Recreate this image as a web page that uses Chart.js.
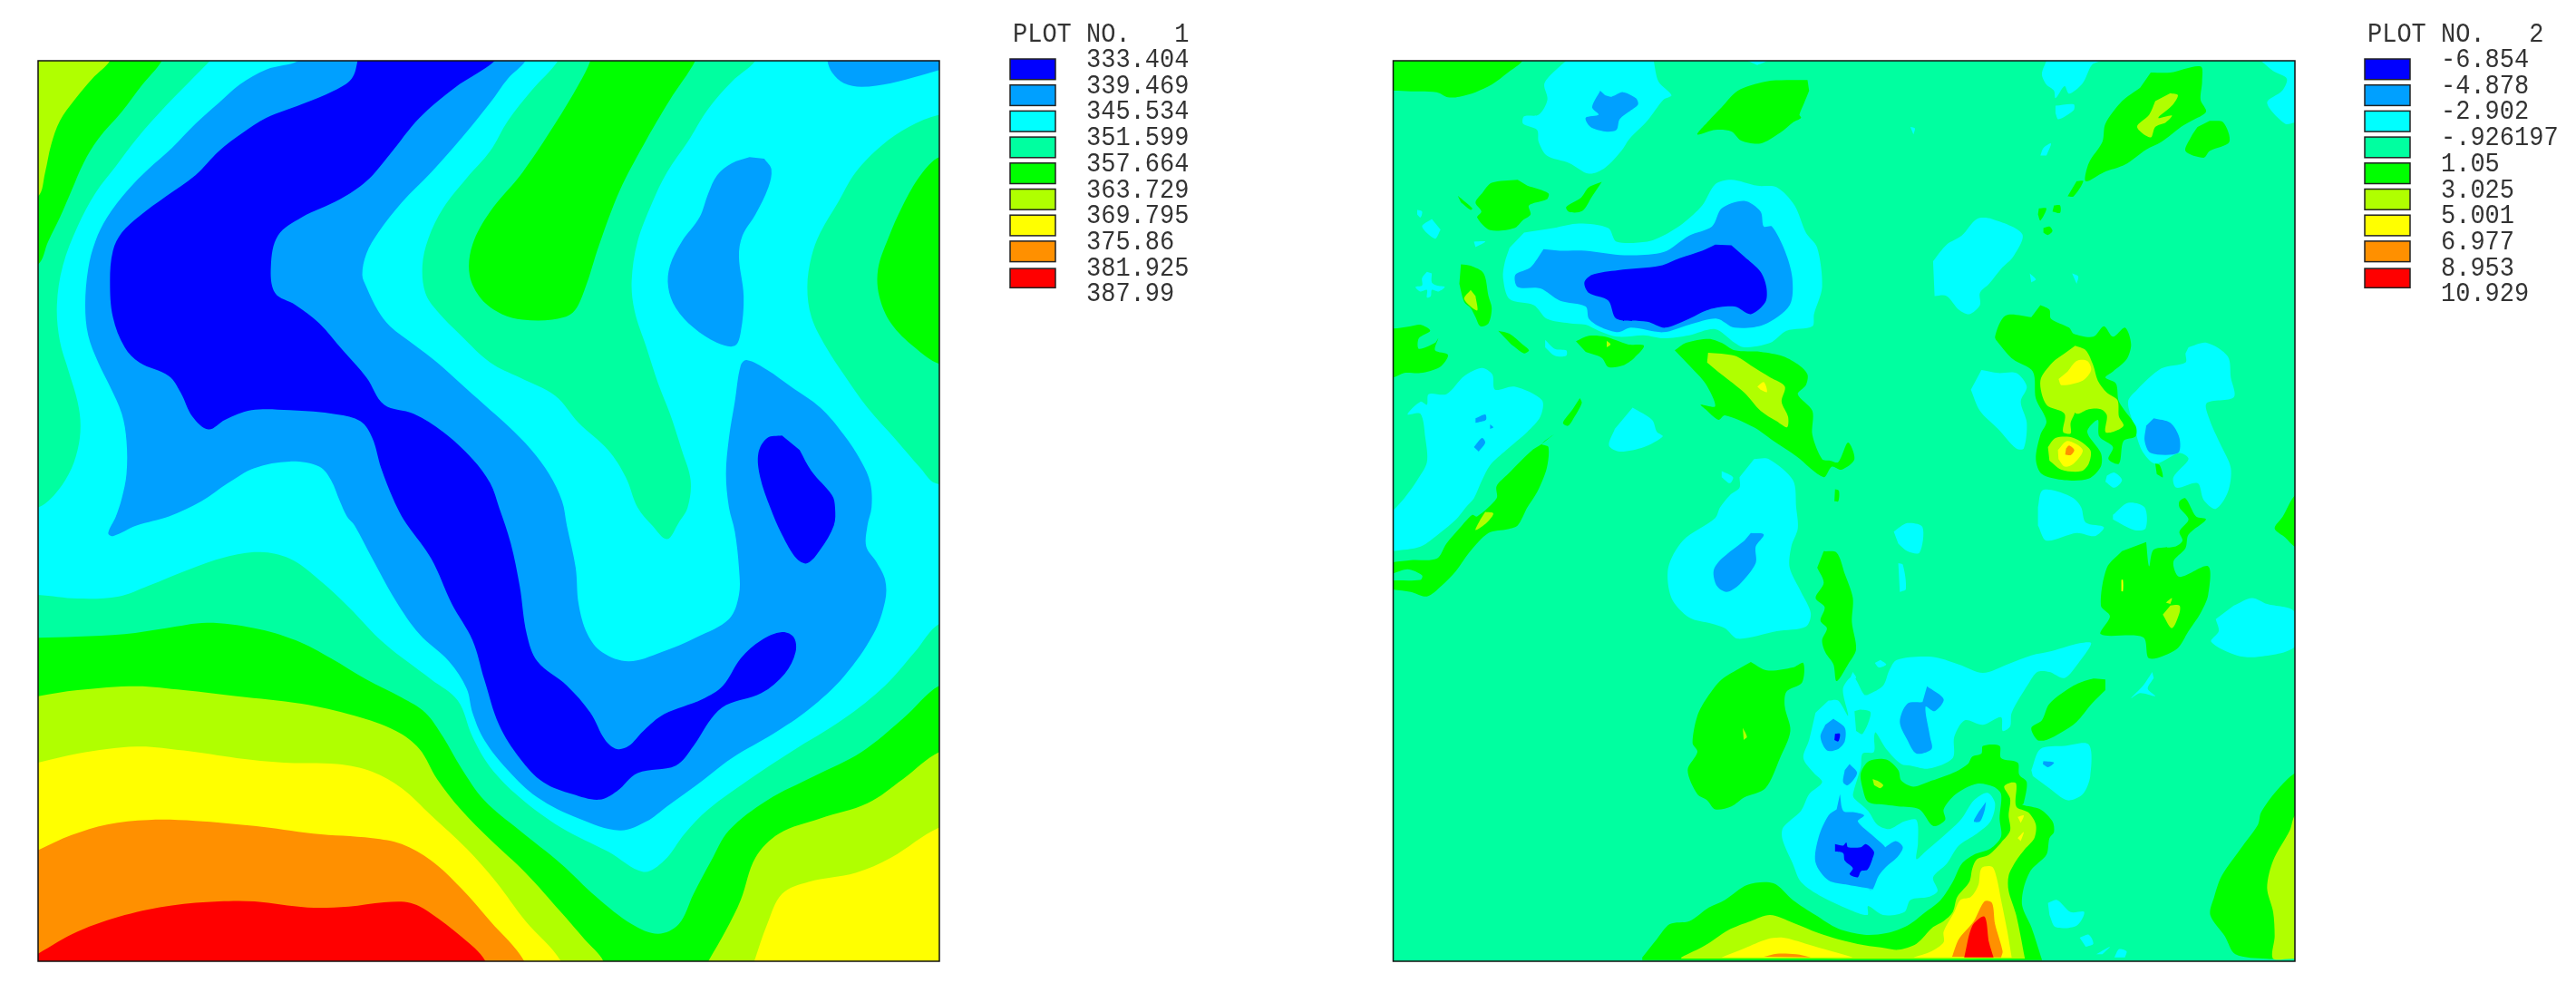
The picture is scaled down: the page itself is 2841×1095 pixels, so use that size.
<!DOCTYPE html>
<html><head><meta charset="utf-8">
<script src="https://cdn.jsdelivr.net/npm/chart.js@4/dist/chart.umd.js"></script>
<style>html,body{margin:0;background:#fff;width:2841px;height:1095px;overflow:hidden}canvas{position:absolute;top:0}</style>
</head><body>
<canvas id="c1" width="1494" height="1095" style="left:0"></canvas>
<canvas id="c2" width="1347" height="1095" style="left:1494px"></canvas>
<script>
const bandColors=['#0000FF','#00A0FF','#00FFFF','#00FFA0','#00FF00','#B0FF00','#FFFF00','#FF9000','#FF0000'];
const levels1=['333.404','339.469','345.534','351.599','357.664','363.729','369.795','375.86','381.925','387.99'];
const levels2=['-6.854','-4.878','-2.902','-.926197','1.05','3.025','5.001','6.977','8.953','10.929'];
const titles=['PLOT NO.   1','PLOT NO.   2'];
const [BLUE,SKY,CYAN,MINT,GREEN,LIME,YELLOW,ORANGE,RED]=bandColors;

/* ---- plot 1: contour outlines, flat x,y lists ---- */
const p1Cyan=[325,20,1600,20,1600,1915,1562,1915,1520,2010,1470,2120,1400,2230,1310,2340,1240,2430,1170,2530,1130,2610,1095,2700,1060,2737,1000,2670,920,2590,850,2490,800,2390,770,2290,745,2170,700,2100,620,1980,560,1860,510,1770,460,1700,410,1678,350,1695,290,1735,220,1790,170,1825,100,1832,33,1820,0,1820,0,1530,33,1530,60,1490,85,1420,100,1340,105,1260,100,1180,85,1080,70,980,65,860,75,730,100,600,130,490,165,400,200,310,250,200,290,120,325,51];
const p1MintMid=[915,20,915,51,870,150,830,250,800,350,760,440,720,540,695,640,685,730,690,820,710,880,750,960,800,1050,850,1100,910,1160,950,1250,1000,1340,1030,1430,1050,1530,1075,1590,1100,1635,1120,1580,1135,1530,1140,1440,1125,1340,1105,1220,1085,1120,1065,1000,1045,880,1040,780,1050,650,1075,520,1100,420,1135,320,1170,210,1210,120,1250,51,1250,20];
const p1MintRight=[1600,230,1562,230,1510,270,1465,330,1420,420,1390,520,1360,620,1345,700,1338,800,1345,900,1370,1000,1400,1090,1440,1200,1490,1310,1530,1400,1555,1450,1600,1450];
const p1GreenMid=[970,20,970,51,950,130,910,260,855,420,800,550,770,660,765,760,785,840,820,890,855,908,905,908,940,885,960,810,985,660,1020,480,1060,330,1105,180,1148,51,1148,20];
const p1GreenRight=[1600,370,1562,370,1530,430,1500,530,1475,640,1458,740,1460,830,1480,920,1520,1000,1562,1055,1600,1055];
const p1GreenCorner=[243,20,243,51,210,130,175,220,135,310,110,390,90,480,70,570,50,650,33,725,0,725,0,20];
const p1LimeCorner=[155,20,155,51,125,110,95,180,70,250,55,330,45,420,33,500,0,500,0,20];
const p1SkyMain=[475,20,475,51,420,80,375,130,340,190,300,260,260,340,220,410,185,480,150,570,130,650,118,740,113,860,118,960,135,1050,155,1130,175,1220,183,1310,183,1420,175,1500,165,1560,152,1615,160,1625,200,1590,255,1560,310,1510,355,1450,400,1400,460,1378,510,1395,530,1440,545,1510,557,1560,570,1590,600,1700,640,1840,680,1950,730,2040,760,2130,770,2210,790,2300,830,2400,880,2490,950,2560,1020,2600,1065,2570,1100,2520,1150,2450,1210,2360,1280,2280,1340,2200,1400,2090,1450,1950,1470,1840,1470,1770,1455,1710,1438,1660,1440,1590,1447,1530,1445,1450,1430,1380,1400,1290,1360,1200,1310,1130,1270,1075,1235,1042,1225,1060,1215,1180,1205,1300,1200,1420,1205,1530,1215,1610,1222,1730,1222,1820,1205,1900,1150,1960,1090,2010,1035,2040,990,2010,965,1950,950,1850,945,1730,930,1590,922,1510,900,1420,870,1340,830,1260,790,1190,750,1120,710,1050,670,990,630,930,610,880,590,800,583,760,590,690,610,620,650,520,700,420,750,310,800,190,830,110,860,51,860,20];
const p1SkyIsland=[1240,370,1210,390,1185,430,1170,490,1155,570,1125,650,1105,730,1102,800,1115,870,1145,935,1185,985,1215,995,1225,950,1230,830,1222,700,1228,630,1250,560,1272,470,1277,410,1265,375];
const p1SkyCorner=[1372,20,1372,51,1380,90,1400,125,1430,137,1480,125,1530,100,1562,82,1600,60,1600,20];
const p1BlueMain=[575,20,575,51,565,110,535,150,480,195,420,240,380,290,340,350,300,430,250,500,205,565,175,620,160,680,155,780,160,900,180,1000,205,1050,255,1095,275,1150,295,1230,322,1272,350,1240,395,1208,460,1208,540,1222,580,1245,600,1300,615,1400,635,1500,650,1560,660,1590,700,1700,735,1850,770,1970,790,2100,815,2250,850,2360,890,2440,940,2480,985,2498,1015,2470,1050,2410,1115,2385,1145,2320,1175,2230,1200,2185,1260,2145,1300,2080,1318,2010,1315,1960,1295,1943,1260,1970,1225,2030,1195,2120,1160,2165,1095,2215,1060,2270,1035,2320,1015,2330,995,2300,970,2210,930,2120,880,2040,862,1950,850,1790,835,1650,815,1530,800,1450,770,1370,720,1280,670,1220,620,1190,590,1100,550,1010,510,920,470,860,435,820,428,730,440,630,480,570,545,510,590,450,630,360,680,240,740,140,808,51,808,20];
const p1BlueIsland=[1295,1292,1270,1300,1255,1350,1258,1430,1275,1530,1295,1620,1320,1700,1338,1715,1360,1670,1383,1590,1385,1530,1380,1490,1345,1410,1325,1340];
const p1GreenLow=[33,1962,100,1958,180,1950,250,1930,320,1912,400,1930,470,1970,530,2030,590,2100,650,2160,690,2210,720,2290,750,2390,790,2500,850,2600,920,2710,980,2820,1040,2910,1085,2942,1120,2910,1145,2810,1175,2700,1205,2600,1270,2500,1350,2420,1430,2340,1500,2230,1562,2120,1600,2120,1600,3100,0,3100,0,1962];
const p1LimeLeft=[33,2155,100,2135,200,2122,280,2135,370,2155,480,2180,570,2220,640,2270,680,2330,710,2430,750,2530,800,2630,860,2740,920,2870,960,2960,992,3033,992,3100,0,3100,0,2155];
const p1LimeRight=[1170,3033,1200,2930,1225,2830,1250,2690,1290,2610,1360,2560,1440,2510,1500,2430,1562,2340,1600,2340,1600,3100,1170,3100];
const p1YellowLeft=[33,2375,100,2345,200,2322,280,2335,370,2360,450,2375,540,2380,600,2405,650,2460,700,2550,760,2660,810,2770,860,2900,920,3033,920,3100,0,3100,0,2375];
const p1YellowRight=[1248,3033,1270,2910,1295,2810,1340,2770,1420,2740,1480,2690,1562,2590,1600,2590,1600,3100,1248,3100];
const p1Orange=[33,2665,90,2615,150,2580,220,2565,300,2568,400,2585,500,2610,600,2625,650,2645,700,2700,750,2790,800,2900,858,3033,858,3100,0,3100,0,2665];
const p1Red=[33,3008,100,2935,180,2880,260,2848,340,2835,400,2835,490,2855,560,2852,620,2838,665,2840,700,2875,750,2950,792,3033,792,3100,0,3100,0,3008];

/* ---- plot 2: outlines. "Lf" lists use a left-frame x, "Rt" a right-frame x, "Mx" the plot's own x ---- */
const p2CyanLf=[
[580,51,530,100,512,130,522,180,495,230,450,235,447,260,490,280,495,320,520,365,590,390,650,425,700,405,750,350,775,310,830,250,880,180,905,165,865,120,850,51],
[165,575,135,600,175,640,192,610],
[150,750,135,770,135,795,115,800,130,815,150,810,150,835,162,830,165,810,185,815,205,800,180,795,165,785,165,755],
[120,545,135,550,130,570,120,560],[295,650,330,650,300,668],[1140,51,1200,51,1170,65],
[405,670,390,720,385,770,405,840,480,860,520,905,590,920,640,925,680,945,740,965,820,960,880,970,960,960,1040,940,1100,985,1130,1000,1210,985,1260,945,1340,930,1345,890,1370,800,1355,670,1320,620,1285,530,1230,470,1170,465,1090,445,1040,460,1000,530,940,590,880,630,830,650,735,650,710,605,620,590,540,605,450,620],
[515,975,545,1005,580,1010,580,1028,545,1028,515,1000],
[46,1540,80,1500,120,1440,150,1380,145,1300,130,1220,90,1222,130,1180,150,1190,155,1155,210,1155,265,1095,320,1068,352,1090,360,1140,420,1130,505,1175,500,1230,460,1280,395,1340,345,1390,320,1440,295,1500,270,1530,240,1570,190,1615,130,1660,46,1675],
[785,1200,845,1240,860,1280,878,1295,820,1330,745,1345,712,1325,730,1270],
[1160,1370,1205,1370,1280,1440,1290,1530,1295,1600,1275,1660,1270,1730,1305,1810,1335,1880,1320,1925,1230,1940,1110,1965,1070,1930,1030,1915,960,1895,905,1830,895,1730,940,1640,1040,1565,1055,1530,1085,1490,1115,1465,1115,1430],
[1060,1410,1095,1430,1085,1450,1060,1430],
[1550,2035,1568,2050,1545,2060,1533,2045],[1465,2075,1475,2095,1455,2100]];
const p2CyanRt=[
[85,1610,130,1582,180,1595,170,1680,130,1675,100,1650],[100,1715,115,1720,125,1800,105,1810],
[562,1530,575,1475,620,1475,680,1500,705,1530,720,1580,780,1595,750,1625,690,1615,590,1640,562,1590],
[810,1555,860,1515,915,1530,918,1600,880,1605,810,1570],
[1210,1855,1270,1830,1320,1850,1410,1875,1412,1990,1290,2025,1220,2020,1135,1975,1160,1940,1150,1900],
[940,2075,910,2120,870,2162,900,2145,950,2155,925,2130,945,2095],
[540,2400,570,2330,650,2320,730,2315,735,2420,710,2480,660,2500,600,2460,545,2420],
[595,2840,625,2830,670,2870,715,2870,690,2915,620,2920,600,2880],
[700,2955,730,2945,745,2975,720,2985],[755,3010,800,2985,775,3010],[815,3020,830,2993,855,3000,850,3020],
[590,51,575,95,590,130,615,150,620,175,650,135,665,160,710,125,740,65,770,51],
[620,200,680,195,680,215,630,245,620,225],[570,365,580,340,605,325,590,365],[140,270,155,275,150,295],
[215,715,260,660,310,630,360,575,410,575,510,625,480,700,440,740,400,790,370,820,370,860,335,890,300,875,260,830,220,830],
[535,755,555,775,540,785],[675,755,695,765,690,790],
[1300,51,1340,85,1385,110,1370,150,1320,190,1380,260,1412,255,1440,255,1440,51],
[375,1075,430,1085,490,1085,525,1130,505,1180,525,1250,515,1335,490,1335,430,1270,370,1210,340,1140],
[1060,1000,1120,985,1190,1030,1200,1100,1210,1165,1120,1185,1130,1240,1165,1320,1200,1400,1190,1480,1150,1535,1110,1505,1090,1450,1020,1465,1010,1430,1060,1370,1030,1350,950,1385,905,1340,880,1260,860,1180,890,1140,970,1070,1050,1050,1050,1020],
[790,1425,815,1415,840,1440,815,1465,785,1445]];
const p2CyanMx=[[1489,2170,1521,2170,1554,2220,1537,2130,1570,2090,1607,2150,1620,2150,1670,2120,1690,2070,1715,2035,1830,2025,1920,2050,2000,2078,2080,2050,2160,2020,2230,2005,2320,1980,2358,1980,2320,2040,2270,2095,2220,2075,2180,2075,2150,2115,2095,2210,2090,2255,2065,2270,2060,2225,2000,2250,1940,2235,1905,2290,1900,2360,1820,2395,1760,2385,1730,2380,1680,2330,1645,2275,1640,2290,1639,2340,1602,2345,1596,2390,1570,2480,1575,2495,1620,2535,1650,2580,1690,2595,1740,2570,1780,2565,1785,2640,1780,2695,1810,2670,1890,2600,1930,2560,1970,2500,2015,2475,2040,2510,2025,2570,1980,2610,1920,2650,1880,2710,1835,2755,1850,2800,1820,2820,1760,2830,1740,2870,1670,2880,1620,2850,1618,2880,1554,2860,1468,2820,1398,2770,1371,2710,1337,2630,1339,2590,1398,2535,1425,2480,1468,2440,1441,2410,1406,2360,1425,2300,1446,2210]];
const p2MintLf=[[1470,2205,1490,2200,1520,2210,1495,2280,1475,2270]];
const p2SkyLf=[
[685,150,660,205,680,230,640,240,655,270,700,285,735,280,745,245,780,215,802,195,795,175,755,155,720,170,700,165],
[510,675,470,735,423,760,430,800,500,805,560,845,640,865,650,905,690,935,740,950,780,935,880,950,960,925,1045,905,1100,935,1190,925,1270,860,1278,770,1255,680,1215,600,1190,600,1180,550,1130,515,1060,540,1030,600,960,630,880,685,760,695,640,680,560,680],
[300,1235,330,1222,332,1240,300,1250],[295,1330,320,1300,330,1315,310,1345],[345,1255,355,1265,345,1270],
[1150,1615,1190,1620,1165,1660,1165,1715,1115,1785,1075,1810,1045,1790,1035,1740,1060,1700,1130,1640],
[1405,2230,1440,2260,1440,2305,1420,2330,1385,2335,1365,2290,1380,2250],
[1455,2380,1478,2410,1450,2450,1435,2440,1440,2400]];
const p2SkyRt=[[580,2370,615,2375,595,2390,578,2380],[390,2505,385,2535,370,2570,350,2570,365,2540],[945,1235,1000,1250,1030,1300,1025,1350,935,1350,915,1310,920,1260],
[195,2122,250,2165,220,2205,190,2190,205,2290,210,2330,160,2345,130,2300,105,2240,130,2180,180,2175]];
const p2SkyMx=[[1527,2480,1538,2535,1575,2540,1607,2550,1586,2570,1639,2620,1680,2660,1660,2670,1710,2635,1735,2655,1715,2690,1680,2720,1655,2750,1635,2795,1620,2795,1640,2795,1554,2780,1489,2765,1446,2705,1457,2620,1489,2550,1516,2530]];
const p2BlueLf=[
[1040,660,1000,680,930,705,870,730,740,745,660,760,636,785,650,820,710,845,735,905,830,915,885,935,950,910,1020,875,1100,865,1150,890,1195,850,1198,800,1180,750,1130,700,1090,662],
[1410,2280,1425,2280,1420,2305,1408,2300],
[1410,2645,1435,2650,1445,2640,1450,2655,1490,2655,1505,2645,1530,2670,1525,2695,1510,2730,1490,2735,1480,2755,1455,2745,1465,2725,1440,2700,1435,2675,1410,2670]];
const p2GreenLf=[
[20,20,445,20,445,51,400,90,350,130,300,155,250,170,215,172,180,155,100,152,46,150,20,150],
[1325,115,1260,115,1195,120,1110,150,1060,205,1020,250,985,295,1040,280,1090,285,1120,315,1180,325,1240,290,1280,255,1305,240,1300,230,1315,190,1330,150],
[430,445,350,455,320,490,300,520,318,550,305,570,345,612,420,605,445,580,470,560,465,530,520,510,525,490,460,465],
[245,498,290,540,285,545,255,520],[690,452,650,470,625,505,580,535,590,552,630,548,660,500],
[255,725,285,730,325,755,340,830,350,870,340,920,315,930,300,900,285,870,265,850,250,790],
[20,938,46,938,100,930,130,925,160,945,125,970,125,1005,175,985,185,970,175,1010,215,1025,190,1065,130,1085,80,1085,46,1100,20,1100],
[370,945,405,955,445,990,465,1010,450,1020,410,990],[610,980,650,962,700,965,770,990,820,995,790,1035,755,1060,710,1065,690,1035,640,1015],
[915,1010,950,985,1020,972,1060,985,1100,1010,1180,1015,1250,1030,1300,1060,1325,1090,1320,1125,1295,1155,1340,1210,1340,1290,1370,1370,1395,1375,1420,1380,1450,1315,1470,1370,1430,1405,1400,1395,1375,1430,1290,1360,1220,1310,1160,1265,1070,1225,1050,1240,1010,1205,995,1190,1040,1195,1010,1120,960,1060],
[622,1168,628,1185,600,1240,585,1260,570,1250,600,1205],
[545,1285,505,1320,525,1330,520,1400,490,1480,460,1530,430,1590,400,1602,340,1615,280,1680,240,1740,195,1790,150,1825,100,1810,20,1795,20,1775,130,1770,135,1755,90,1735,20,1755,20,1720,100,1705,180,1700,210,1650,250,1600,290,1555,305,1560,365,1500,365,1460,400,1420,470,1345,505,1320],
[1410,1470,1422,1475,1420,1510,1408,1510],
[1375,1675,1415,1680,1440,1750,1465,1830,1462,1910,1475,2000,1450,2050,1415,2105,1405,2050,1380,2010,1370,1970,1385,1930,1365,1905,1378,1860,1350,1830,1375,1780,1355,1730],
[1150,2042,1200,2070,1280,2060,1312,2045,1308,2110,1260,2140,1255,2190,1272,2270,1240,2360,1195,2460,1130,2490,1090,2520,1040,2530,1015,2500,985,2480,955,2400,985,2340,970,2310,985,2220,1015,2160,1060,2100,1120,2060]];
const p2GreenRt=[
[785,2100,740,2098,680,2120,600,2180,575,2235,540,2260,560,2300,590,2300,640,2275,690,2240,740,2180,785,2135],
[920,1645,930,1725,945,1670,1015,1660,1040,1640,1030,1610,1060,1570,1030,1530,1030,1510,1050,1500,1085,1560,1118,1570,1060,1620,1050,1665,1010,1710,1030,1760,1125,1725,1125,1820,1100,1880,1060,1940,1020,2000,930,2030,910,1960,770,1950,800,1890,770,1855,790,1730,840,1675],
[1440,2410,1412,2410,1350,2470,1300,2540,1290,2580,1240,2650,1170,2750,1145,2820,1132,2880,1180,2950,1215,3010,1320,3025,1412,3025,1440,3040],
[1440,1490,1412,1490,1372,1560,1345,1600,1380,1630,1412,1660,1440,1660],
[935,90,1000,90,1100,70,1105,120,1100,180,1118,220,1070,250,1035,270,970,320,920,345,850,395,780,420,720,450,730,390,775,320,785,260,840,185,900,140],
[1130,250,1175,255,1195,320,1130,350,1110,372,1050,350,1070,300,1090,270],
[690,450,712,450,680,500,660,500],[615,530,635,530,635,555,610,550],[565,540,590,540,570,580,562,560],[580,605,600,600,610,615,595,628,580,620],
[570,860,600,875,605,905,665,935,680,955,745,965,780,930,810,965,850,935,870,990,855,1040,810,1080,785,1100,820,1120,830,1180,885,1260,885,1295,845,1310,830,1385,795,1370,810,1330,765,1295,760,1240,725,1280,770,1350,770,1395,730,1435,650,1440,575,1420,555,1370,570,1290,590,1245,555,1170,545,1080,480,1040,435,990,420,965,455,895,540,900],
[950,1385,965,1390,975,1430,955,1420]];
const p2GreenMx=[[873,3020,921,2960,964,2910,1029,2900,1093,2855,1146,2830,1221,2780,1307,2775,1371,2830,1446,2880,1521,2925,1607,2945,1680,2940,1750,2915,1810,2870,1860,2830,1900,2770,1930,2710,1970,2680,2025,2660,2060,2620,2055,2560,2060,2480,2035,2455,1980,2445,1910,2480,1870,2530,1875,2565,1835,2585,1790,2530,1720,2520,1680,2515,1620,2505,1602,2460,1596,2410,1623,2370,1680,2365,1720,2400,1730,2435,1770,2455,1830,2435,1910,2405,1950,2380,1965,2355,1995,2345,2000,2320,2055,2320,2060,2360,2115,2375,2120,2415,2145,2440,2135,2510,2130,2515,2190,2530,2230,2570,2235,2605,2220,2625,2210,2680,2160,2730,2135,2790,2130,2850,2160,2920,2195,3028,2195,3029,873,3029]];
const p2LimeLf=[
[285,810,265,840,305,878,300,830],[705,978,717,990,705,1000],
[1018,1018,1100,1028,1150,1060,1210,1100,1255,1130,1245,1180,1265,1230,1262,1265,1230,1245,1180,1210,1130,1150,1060,1090,1015,1050],
[330,1545,355,1550,335,1580,300,1605,315,1570],[1125,2260,1138,2290,1128,2300]];
const p2LimeRt=[
[1000,158,1025,165,1005,200,960,240,1005,232,985,255,950,270,935,305,890,270,930,230,950,185],
[685,995,720,1010,745,1060,760,1110,790,1150,825,1175,830,1230,845,1260,810,1280,785,1280,790,1225,770,1205,730,1205,690,1220,670,1190,685,1210,670,1250,670,1285,645,1280,650,1220,590,1190,570,1110,610,1050,650,1020],
[595,1330,620,1300,680,1300,735,1340,730,1385,705,1410,640,1405,600,1375],
[1000,1855,1030,1855,1030,1880,1005,1930,975,1885],[985,1845,1005,1830,1000,1850],
[1440,2550,1412,2550,1395,2600,1340,2700,1320,2790,1340,2870,1345,2950,1340,3025,1412,3025,1440,3040],
[15,2430,30,2435,50,2450,40,2460,20,2450]];
const p2LimeMx=[[1002,3020,1082,2980,1157,2930,1232,2900,1296,2880,1371,2905,1457,2940,1521,2960,1607,2980,1680,2990,1720,2995,1780,2975,1835,2920,1870,2900,1900,2870,1915,2820,1955,2770,1965,2725,1980,2695,2020,2680,2060,2640,2090,2600,2085,2550,2090,2495,2070,2455,2090,2442,2110,2445,2110,2520,2150,2540,2175,2580,2170,2625,2140,2660,2110,2700,2085,2750,2085,2800,2110,2880,2138,3020,2138,3024,1002,3024]];
const p2YellowLf=[[1170,1130,1190,1115,1200,1148,1180,1140],[1060,3020,1130,2990,1200,2960,1250,2955,1320,2975,1400,3000,1465,3020]];
const p2YellowRt=[[660,1080,690,1045,725,1045,738,1075,710,1110,640,1125,630,1105],[628,1340,660,1310,710,1340,680,1385,650,1395,630,1370],[495,2555,515,2550,505,2575],[495,2625,515,2605,505,2635],[150,3020,210,3000,250,2970,250,2935,285,2870,305,2830,340,2820,365,2780,375,2725,410,2720,425,2755,440,2830,460,2930,475,3020],[838,1770,843,1770,843,1808,838,1808]];
const p2OrangeLf=[[1190,3018,1230,3008,1290,3010,1335,3020]];
const p2OrangeRt=[[655,1335,665,1325,682,1340,670,1357,652,1355],[278,3018,300,2960,350,2900,385,2835,410,2840,420,2910,445,3000,440,3020]];
const p2RedRt=[[318,3020,345,2915,385,2885,400,2970,415,3020]];

/* ---- helpers ---- */
const pairs=(list,k=1,dx=0)=>{const o=[];for(let i=0;i<list.length;i+=2)o.push({x:list[i]*k+dx,y:list[i+1]});return o;};
const LF=15/14, RT=1620;
const shape=(data,color,tension)=>({data,backgroundColor:color,borderWidth:0,fill:'shape',pointRadius:0,tension});
function wrap(plotPlugin,ds,xr,yr){return {type:'line',data:{datasets:ds.map((d,i)=>({...d,order:ds.length-i}))},
  options:{responsive:false,animation:false,parsing:true,
    layout:{padding:plotPlugin.padding},
    plugins:{legend:{display:false},tooltip:{enabled:false},title:{display:false}},
    scales:{x:{type:'linear',display:false,min:xr[0],max:xr[1]},y:{type:'linear',display:false,reverse:true,min:yr[0],max:yr[1]}}},
  plugins:[plotPlugin.plugin]};}
const LEG={swX:1114,swW:50,swY:65,swH:22.7,pitch:28.7,titleX:1117,titleY:45.5,valX:1198,valY:74,stretch:1.08,font:'27px "Liberation Mono"'};
function framePlugin(title,levels){return {id:'frame',afterDraw(chart){const c=chart.ctx,a=chart.chartArea;c.save();
  c.strokeStyle='#111';c.lineWidth=1.5;c.strokeRect(a.left,a.top,a.right-a.left,a.bottom-a.top);
  const text=(t,x,y)=>{c.save();c.translate(x,y);c.scale(1,LEG.stretch);c.fillText(t,0,0);c.restore();};
  c.font=LEG.font;c.fillStyle='#333';c.textBaseline='alphabetic';text(title,LEG.titleX,LEG.titleY);
  bandColors.forEach((col,i)=>{const last=i===bandColors.length-1;const y=LEG.swY+i*LEG.pitch+(last?1.5:0),h=LEG.swH-(last?1.5:0);
    c.fillStyle=col;c.fillRect(LEG.swX,y,LEG.swW,h);c.strokeStyle='#222';c.lineWidth=1.5;c.strokeRect(LEG.swX,y,LEG.swW,h);});
  c.fillStyle='#333';levels.forEach((t,i)=>text(t,LEG.valX,LEG.valY+i*LEG.pitch));c.restore();}};}

/* ---- plot 1 ---- */
const T1=0.35;
const baseRect=[-5000,-5000,9000,-5000,9000,9000,-5000,9000];
const ds1=[shape(pairs(baseRect),MINT,0)];
[[p1Cyan,CYAN],[p1MintMid,MINT],[p1MintRight,MINT],[p1GreenMid,GREEN],[p1GreenRight,GREEN],[p1GreenCorner,GREEN],[p1LimeCorner,LIME],[p1SkyMain,SKY],[p1SkyIsland,SKY],[p1SkyCorner,SKY],[p1BlueMain,BLUE],[p1BlueIsland,BLUE],[p1GreenLow,GREEN],[p1LimeLeft,LIME],[p1LimeRight,LIME],[p1YellowLeft,YELLOW],[p1YellowRight,YELLOW],[p1Orange,ORANGE],[p1Red,RED]]
 .forEach(([p,c])=>ds1.push(shape(pairs(p),c,T1)));
new Chart(document.getElementById('c1'),wrap({padding:{left:42,top:67,right:458,bottom:35},plugin:framePlugin(titles[0],levels1)},ds1,[33,1562],[51,3033]));

/* ---- plot 2 ---- */
const T2=0.3;
const ds2=[shape(pairs(baseRect),MINT,0)];
const addAll=(lf,rt,mx,c)=>{(lf||[]).forEach(p=>ds2.push(shape(pairs(p,LF),c,T2)));(rt||[]).forEach(p=>ds2.push(shape(pairs(p,1,RT),c,T2)));(mx||[]).forEach(p=>ds2.push(shape(pairs(p),c,T2)));};
addAll(p2CyanLf,p2CyanRt,p2CyanMx,CYAN);
addAll(p2MintLf,null,null,MINT);
addAll(p2SkyLf,p2SkyRt,p2SkyMx,SKY);
addAll(p2BlueLf,null,null,BLUE);
addAll(p2GreenLf,p2GreenRt,p2GreenMx,GREEN);
addAll(p2LimeLf,p2LimeRt,p2LimeMx,LIME);
addAll(p2YellowLf,p2YellowRt,null,YELLOW);
addAll(p2OrangeLf,p2OrangeRt,null,ORANGE);
addAll(null,p2RedRt,null,RED);
new Chart(document.getElementById('c2'),wrap({padding:{left:42.5,top:67,right:310,bottom:35},plugin:framePlugin(titles[1],levels2)},ds2,[49,3032],[51,3033]));
</script>
</body></html>
